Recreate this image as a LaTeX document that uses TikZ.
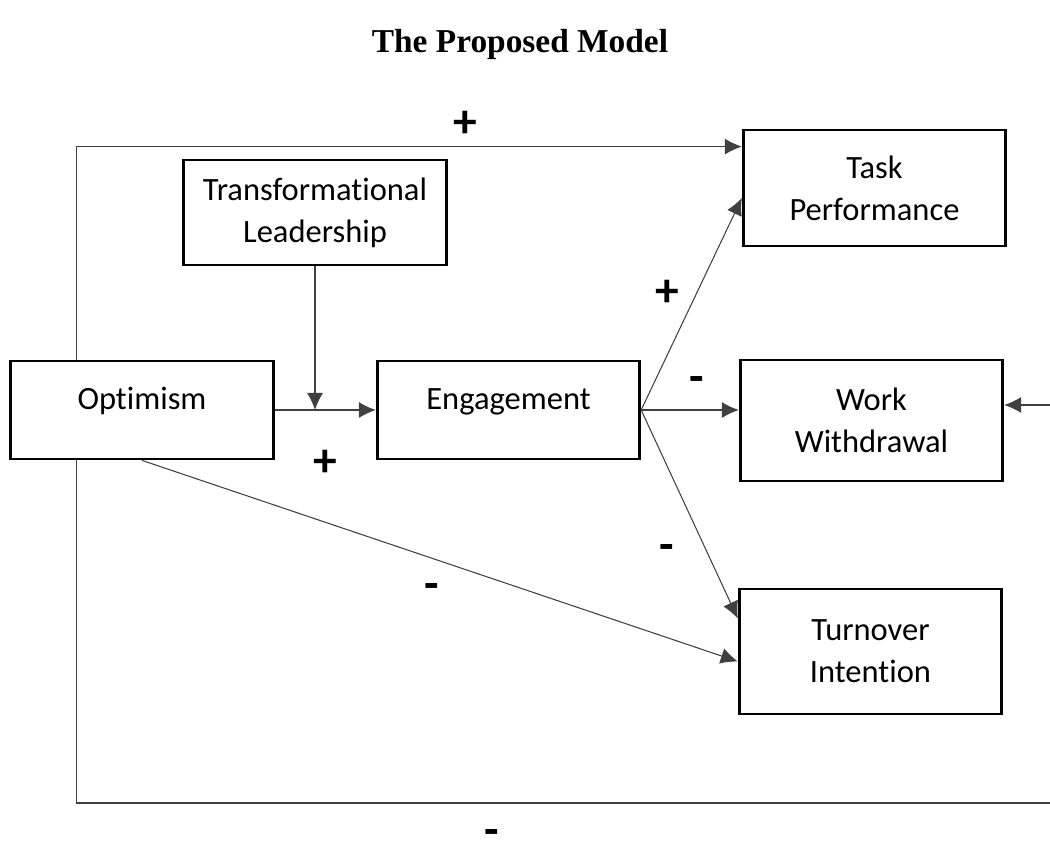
\documentclass[tikz,border=0pt]{standalone}
\usepackage{fontspec}
\setmainfont[Ligatures={NoCommon,NoRequired,NoContextual}]{Carlito}
\newfontfamily\titlefont{Liberation Serif}
\usetikzlibrary{arrows.meta,calc}

\tikzset{
	box/.style={draw, line width=1.6pt, minimum width=5.25cm, align=center,
		font=\fontsize{18.5}{24}\selectfont},
	conn/.style={draw=black!75, line width=0.6pt, -{Latex[length=3.4mm,width=3.2mm]}},
	sgn/.style={inner sep=0pt, font=\fontsize{27}{27}\selectfont\bfseries}
}

\begin{document}
\begin{tikzpicture}
		\useasboundingbox (0,0) rectangle (21,-17.1);
		\node[font=\titlefont\fontsize{19}{22}\selectfont\bfseries] (title) at (10.4,-0.88) {The Proposed Model};
%
		\node[box, minimum height=1.96cm, inner ysep=0pt, text height=0.98cm, text depth=0.98cm] (Opt) at (2.84,-8.2) {Optimism};
		\node[box, minimum height=2.1cm] (TL) at (6.3,-4.25) {Transformational\\Leadership};
		\node[box, minimum height=1.96cm, inner ysep=0pt, text height=0.98cm, text depth=0.98cm] (Eng) at (10.17,-8.2) {Engagement};
		\node[box, minimum height=2.32cm] (Task) at (17.49,-3.76) {Task\\Performance};
		\node[box, minimum height=2.42cm] (Work) at (17.43,-8.41) {Work\\Withdrawal};
		\node[box, minimum height=2.5cm] (Turn) at (17.41,-13.03) {Turnover\\Intention};
%
		\coordinate (j) at (TL.south |- Opt.east);
		\coordinate (edge) at (21,-16.06);
		\coordinate (rin) at (21,-8.1);
%
		\draw[conn] ($(Opt.north west)+(1.34,0)$) |- ($(Task.north west)+(0,-0.36)$);
		\draw[conn] (TL.south) -- (j);
		\draw[conn] (Opt.east) -- (Eng.west);
		\path
			(Eng.east) edge[conn] ($(Task.west)+(0,-0.2)$)
			(Eng.east) edge[conn] (Eng.east -| Work.west)
			(Eng.east) edge[conn] ($(Turn.north west)+(0,-0.62)$)
			(Opt.south) edge[conn] ($(Turn.west)+(0,-0.2)$);
		\draw[draw=black!75, line width=0.6pt] ($(Opt.south west)+(1.34,0)$) |- (edge);
		\draw[conn] (rin) -- (rin -| Work.east);
%
		\node[sgn] (p1) at (9.3,-2.48) {+};
		\node[sgn] (p2) at (6.5,-9.26) {+};
		\node[sgn] (p3) at (13.34,-5.86) {+};
		\node[sgn] (m1) at (13.94,-7.7) {-};
		\node[sgn] (m2) at (13.34,-11.06) {-};
		\node[sgn] (m3) at (8.64,-11.84) {-};
		\node[sgn] (m4) at (9.84,-16.76) {-};
	\end{tikzpicture}
\end{document}
